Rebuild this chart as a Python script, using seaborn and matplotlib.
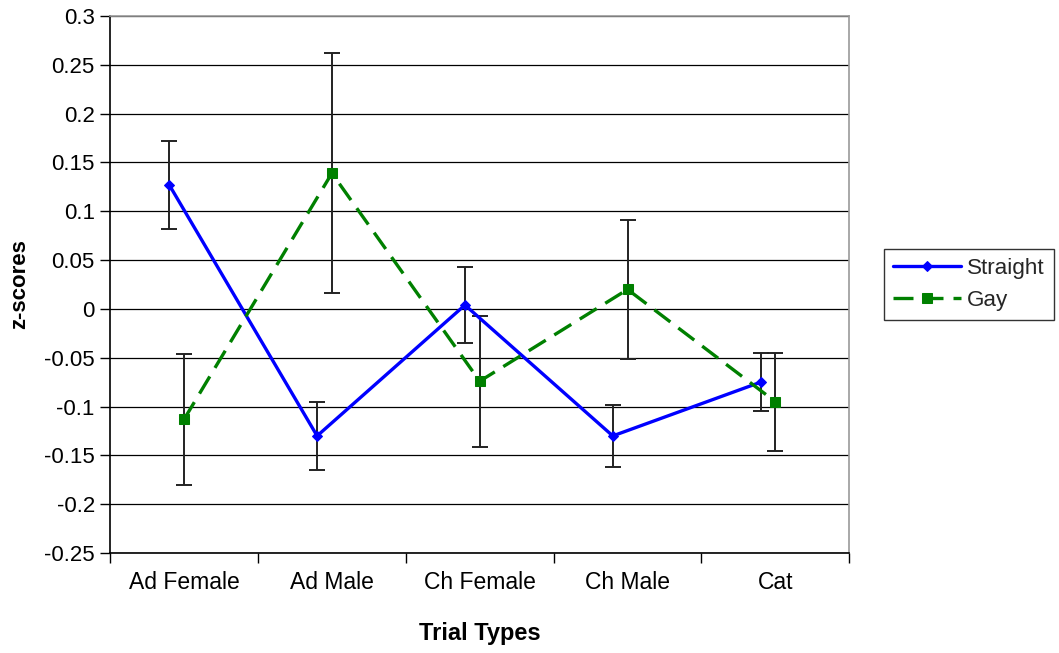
import numpy as np
import pandas as pd
import matplotlib
matplotlib.use("Agg")
import matplotlib.pyplot as plt
import seaborn as sns
from matplotlib.ticker import FuncFormatter, FixedLocator

# data
categories = ["Ad Female", "Ad Male", "Ch Female", "Ch Male", "Cat"]
straight_mean = [0.127, -0.130, 0.004, -0.130, -0.075]
straight_err = [0.045, 0.035, 0.039, 0.032, 0.030]
gay_mean = [-0.113, 0.139, -0.074, 0.020, -0.095]
gay_err = [0.067, 0.123, 0.067, 0.071, 0.050]

sns.set_theme(style="white")
plt.rcParams["font.family"] = ["Liberation Sans", "DejaVu Sans"]

fig = plt.figure(figsize=(10.59, 6.53), dpi=100)
ax = fig.add_axes([0.104, 0.153, 0.698, 0.8225])

pos = np.arange(len(categories))
df = pd.concat([
    pd.DataFrame({"x": pos - 0.1, "z": straight_mean, "err": straight_err, "group": "Straight"}),
    pd.DataFrame({"x": pos, "z": gay_mean, "err": gay_err, "group": "Gay"}),
], ignore_index=True)

styles = {
    "Straight": dict(color="#0000FF", marker="D", ms=5, dashes=None),
    "Gay": dict(color="#008000", marker="s", ms=7, dashes=(6, 3)),
}

# error bars first so lines sit on top
for g, sub in df.groupby("group", sort=False):
    ax.errorbar(sub["x"], sub["z"], yerr=sub["err"], fmt="none", ecolor="#222222",
                elinewidth=1.4, capsize=5.5, capthick=1.4, zorder=2)

for g, sub in df.groupby("group", sort=False):
    st = styles[g]
    sns.lineplot(data=sub, x="x", y="z", color=st["color"], linewidth=2.4,
                 marker=st["marker"], markersize=st["ms"], markeredgecolor=st["color"],
                 label=g, ax=ax, zorder=3)
    if st["dashes"]:
        ax.lines[-1].set_dashes(st["dashes"])

ax.set_xlim(-0.5, len(categories) - 0.5)
ax.set_ylim(-0.25, 0.3)
ax.set_yticks(np.arange(-0.25, 0.301, 0.05))
ax.yaxis.set_major_formatter(FuncFormatter(lambda v, p: "%g" % (round(v, 2) + 0.0)))
ax.yaxis.grid(True, color="#000000", linewidth=0.9)
ax.set_axisbelow(True)

ax.set_xticks(pos)
ax.set_xticklabels(categories)
ax.xaxis.set_minor_locator(FixedLocator(np.arange(-0.5, len(categories), 1.0)))
ax.tick_params(axis="x", which="major", length=0, pad=13, labelsize=16.5, colors="black")
ax.tick_params(axis="x", which="minor", length=7, width=1, color="black", direction="out", bottom=True)
ax.tick_params(axis="y", length=7, width=1, color="black", direction="out", left=True,
               labelsize=16, pad=4, colors="black")

for s in ["left", "bottom"]:
    ax.spines[s].set_color("black")
    ax.spines[s].set_linewidth(1.2)
for s in ["top", "right"]:
    ax.spines[s].set_color("#999999")
    ax.spines[s].set_linewidth(1.2)

ax.set_xlabel("Trial Types", fontsize=17, fontweight="bold", labelpad=20, color="black")
ax.set_ylabel("z-scores", fontsize=16, fontweight="bold", labelpad=10, color="black")

handles, labels = ax.get_legend_handles_labels()
leg = ax.legend(handles, labels, loc="center left", bbox_to_anchor=(1.047, 0.5),
                frameon=True, fancybox=False, fontsize=16.2, handlelength=3.0,
                borderpad=0.4, labelspacing=0.5, handletextpad=0.3, borderaxespad=0)
leg.get_frame().set_edgecolor("black")
leg.get_frame().set_linewidth(1.0)

fig.savefig("out.png", dpi=100)
